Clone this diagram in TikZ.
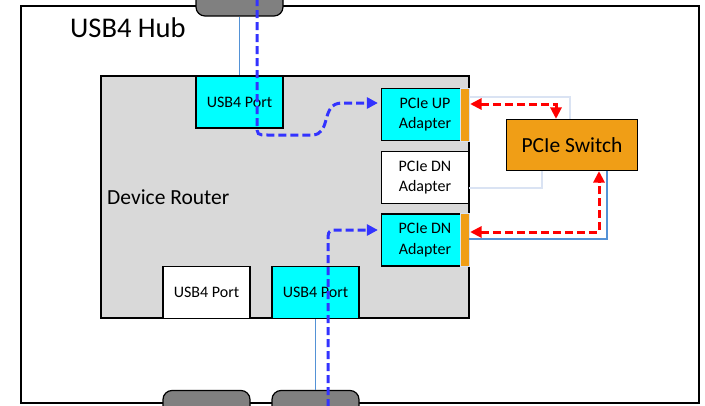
\documentclass[tikz,border=0pt]{standalone}
\usepackage{fontspec}
\setmainfont{Carlito}
\usetikzlibrary{arrows.meta,calc}

\definecolor{portcyan}{RGB}{0,255,255}
\definecolor{sworange}{RGB}{240,158,22}
\definecolor{routergray}{RGB}{217,217,217}
\definecolor{plugray}{RGB}{128,128,128}
\definecolor{pathblue}{RGB}{51,51,255}
\definecolor{pathred}{RGB}{255,0,0}
\definecolor{linkblue}{RGB}{84,146,214}
\definecolor{linkpale}{RGB}{218,227,243}

\tikzset{
  boxlabel/.style={font=\fontsize{16}{20.5}\selectfont, align=center, inner sep=0pt},
  portbox/.style={boxlabel, draw=black, line width=1.2pt, minimum width=87pt, minimum height=52pt},
  plug/.style={draw=black, line width=1.2pt, fill=plugray, rounded corners=9pt,
               minimum width=87pt, minimum height=30pt, inner sep=0pt},
  bluedash/.style={draw=pathblue, line width=3pt, dash pattern=on 8pt off 4pt},
  reddash/.style={draw=pathred, line width=3pt, dash pattern=on 8pt off 4pt},
  bluetip/.tip={Triangle[length=11pt,width=11pt]},
  redtip/.tip={Triangle[length=11.5pt,width=11pt]},
  thinlink/.style={draw=linkblue, line width=1.1pt},
  palelink/.style={draw=linkpale, line width=1.2pt},
}

\begin{document}
\begin{tikzpicture}[x=1pt,y=-1pt]
\useasboundingbox (0,0) rectangle (705,405);

% hub enclosure and its title
\draw[line width=2pt] (21,6) rectangle (699,403);
\node[anchor=base west, inner sep=0pt, font=\fontsize{28.5}{34}\selectfont] (hub) at (70,37) {USB4 Hub};

% device router area
\node[draw=black, line width=1.2pt, fill=routergray, minimum width=368pt, minimum height=242pt,
      inner sep=0pt] (router) at (285,197) {};
\node[anchor=base west, inner sep=0pt, font=\fontsize{21.5}{26}\selectfont] (rlabel) at (107,204) {Device Router};

% USB4 ports
\node[portbox, fill=portcyan] (usbtop) at (239.5,102) {USB4 Port};
\node[portbox, fill=white]    (usbl)   at (206.5,292.5) {USB4 Port};
\node[portbox, fill=portcyan] (usbc)   at (315.5,292.5) {USB4 Port};

% PCIe adapters
\node[portbox, fill=portcyan] (up)  at (425,114.5) {PCIe UP\\Adapter};
\node[portbox, fill=white]    (dnw) at (425,177.5) {PCIe DN\\Adapter};
\node[portbox, fill=portcyan] (dnc) at (425,240) {PCIe DN\\Adapter};
\fill[sworange, draw=linkpale, line width=0.8pt] ([xshift=-9pt]up.north east) rectangle (up.south east);
\fill[sworange, draw=linkpale, line width=0.8pt] ([xshift=-9pt]dnc.north east) rectangle (dnc.south east);

% PCIe switch
\node[draw=black, line width=1.2pt, fill=sworange, minimum width=131pt, minimum height=51pt,
      inner sep=0pt, font=\fontsize{21.5}{26}\selectfont] (sw) at (572,145) {PCIe Switch};

% links between adapters and switch
\draw[palelink] ([yshift=17.5pt]up.east) -| ([xshift=-2pt]sw.north);
\draw[palelink] ([yshift=-10.5pt]dnw.east) -| ([xshift=-30pt]sw.south);
\draw[thinlink] ([yshift=1pt]dnc.east) -| ([xshift=35pt]sw.south);

% external plugs on the enclosure
\node[plug] (ptop) at (239.5,1) {};
\node[plug] (pbl)  at (206.5,405.5) {};
\node[plug] (pbr)  at (315.5,405.5) {};

% cables from plugs to ports
\draw[thinlink] (ptop.south) -- (usbtop.north);
\draw[thinlink] (usbc.south) -- (pbr.north);

% tunnelled PCIe traffic
\coordinate (tin) at (257,-2);
\coordinate (bin) at (328,407);
\draw[bluedash, -bluetip] (tin) -- (257,124) .. controls (257,135) .. (268,135) -- (312,135)
  .. controls (332,135) and (320,103) .. (342,103) -- ([yshift=11.5pt,xshift=-3pt]up.west);
\draw[bluedash, -bluetip] (bin) -- (328,243) .. controls (328,230) .. (341,230)
  -- ([yshift=10pt,xshift=-3pt]dnc.west);

% native PCIe traffic
\draw[reddash, redtip-redtip] ([yshift=10.5pt,xshift=1pt]up.east) -| ([xshift=-16pt]sw.north);
\draw[reddash, redtip-redtip] ([yshift=8pt,xshift=1pt]dnc.east) -| ([xshift=27pt]sw.south);
\end{tikzpicture}
\end{document}
